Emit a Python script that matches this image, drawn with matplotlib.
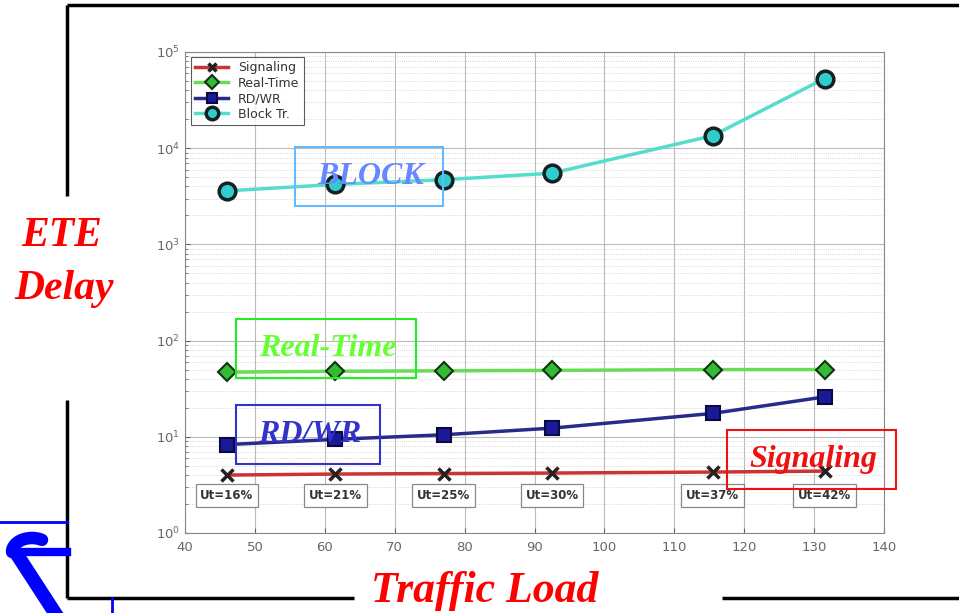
import numpy as np
import matplotlib
matplotlib.use('Agg')
import matplotlib.pyplot as plt
from matplotlib.patches import Rectangle

# traffic load (x) for each measured point
load = [46, 61.5, 77, 92.5, 115.5, 131.5]
ut_labels = ['Ut=16%', 'Ut=21%', 'Ut=25%', 'Ut=30%', 'Ut=37%', 'Ut=42%']

# end-to-end delay per traffic class
signaling = [4.0, 4.1, 4.15, 4.2, 4.3, 4.4]
real_time = [47, 48, 48.5, 49, 50, 50]
rd_wr = [8.3, 9.4, 10.5, 12.3, 17.5, 26]
block_tr = [3600, 4200, 4700, 5500, 13500, 53000]

W, H = 959, 613
fig = plt.figure(figsize=(W / 100, H / 100), dpi=100)
fig.patch.set_facecolor('white')

ax = fig.add_axes([185 / W, 1 - 533 / H, (884 - 185) / W, (533 - 52) / H])
ax.set_yscale('log')
ax.set_xlim(40, 140)
ax.set_ylim(1, 1e5)
ax.set_xticks(range(40, 141, 10))

ax.grid(True, which='major', color='#bbbbbb', lw=0.8)
ax.grid(True, which='minor', axis='y', color='#cccccc', lw=0.6, ls=':')
ax.tick_params(axis='both', which='both', direction='in', colors='#666666',
               labelsize=9.5)
ax.tick_params(axis='x', pad=6)
for s in ax.spines.values():
    s.set_color('#888888')

ax.plot(load, signaling, color='#cc3333', lw=2.5, marker='x', ms=8,
        mec='#222222', mew=2.5, label='Signaling', zorder=3)
ax.plot(load, real_time, color='#66dd55', lw=2.5, marker='D', ms=9,
        mfc='#33bb33', mec='#113311', mew=1.5, label='Real-Time', zorder=3)
ax.plot(load, rd_wr, color='#2a2a8a', lw=2.5, marker='s', ms=10,
        mfc='#1a1a99', mec='#0a0a40', mew=1.5, label='RD/WR', zorder=3)
ax.plot(load, block_tr, color='#55ddcc', lw=2.5, marker='o', ms=12,
        mfc='#33cccc', mec='#112222', mew=2.5, label='Block Tr.', zorder=3)

leg = ax.legend(loc='upper left', bbox_to_anchor=(0.005, 0.995), fontsize=9,
                frameon=True, fancybox=False, edgecolor='#333333',
                borderpad=0.35, labelspacing=0.2, handlelength=2.6,
                borderaxespad=0.2, markerscale=0.75)
leg.get_frame().set_linewidth(0.8)
for t in leg.get_texts():
    t.set_color('#333333')

for x, lab in zip(load, ut_labels):
    ax.text(x, 2.45, lab, ha='center', va='center', fontsize=8.5,
            color='#333333', fontweight='bold',
            bbox=dict(boxstyle='square,pad=0.4', fc='white', ec='#888888',
                      lw=0.9))

# decoration overlay in pixel coordinates
ov = fig.add_axes([0, 0, 1, 1], zorder=5)
ov.set_xlim(0, W)
ov.set_ylim(H, 0)
ov.axis('off')
ov.patch.set_alpha(0)

k = dict(color='black', lw=2.5, solid_capstyle='butt')
ov.plot([67, W], [5, 5], **k)
ov.plot([67, 67], [5, 196], **k)
ov.plot([67, 67], [400, 598], **k)
ov.plot([67, 354], [598, 598], **k)
ov.plot([722, W], [598, 598], **k)

serif = dict(family='Liberation Serif', style='italic', fontweight='bold')
ov.text(62, 236, 'ETE', color='red', ha='center', va='center', fontsize=30,
        **serif)
ov.text(64, 289, 'Delay', color='red', ha='center', va='center', fontsize=30,
        **serif)
ov.text(485, 591, 'Traffic Load', color='red', ha='center', va='center',
        fontsize=31.5, **serif)

boxes = [
    ((295, 147, 148, 59), '#66bbff', 'BLOCK', '#6688ff'),
    ((236, 319, 180, 59), '#22ee22', 'Real-Time', '#66ff33'),
    ((236, 405, 144, 59), '#3333cc', 'RD/WR', '#3333cc'),
    ((727, 430, 169, 59), '#ee1111', 'Signaling', '#ee1111'),
]
for (x0, y0, w, h), ec, txt, tc in boxes:
    ov.add_patch(Rectangle((x0, y0), w, h, fill=False, ec=ec, lw=1.5))
    ov.text(x0 + w / 2 + 2, y0 + h / 2, txt, color=tc, ha='center',
            va='center', fontsize=23, **serif)

# logo fragment
blue = '#0000ff'
ov.plot([0, 67], [522, 522], color=blue, lw=2)
ov.plot([112, 112], [598, 613], color=blue, lw=2)
t = np.linspace(np.pi, np.pi / 3, 30)
ov.plot(32 + 20 * np.cos(t), 552 - 14 * np.sin(t), color=blue, lw=9,
        solid_capstyle='round')
ov.plot([18, 55], [556, 613], color=blue, lw=10)
ov.plot([22, 67], [552, 552], color=blue, lw=6)

fig.savefig('out.png', dpi=100, facecolor='white')
